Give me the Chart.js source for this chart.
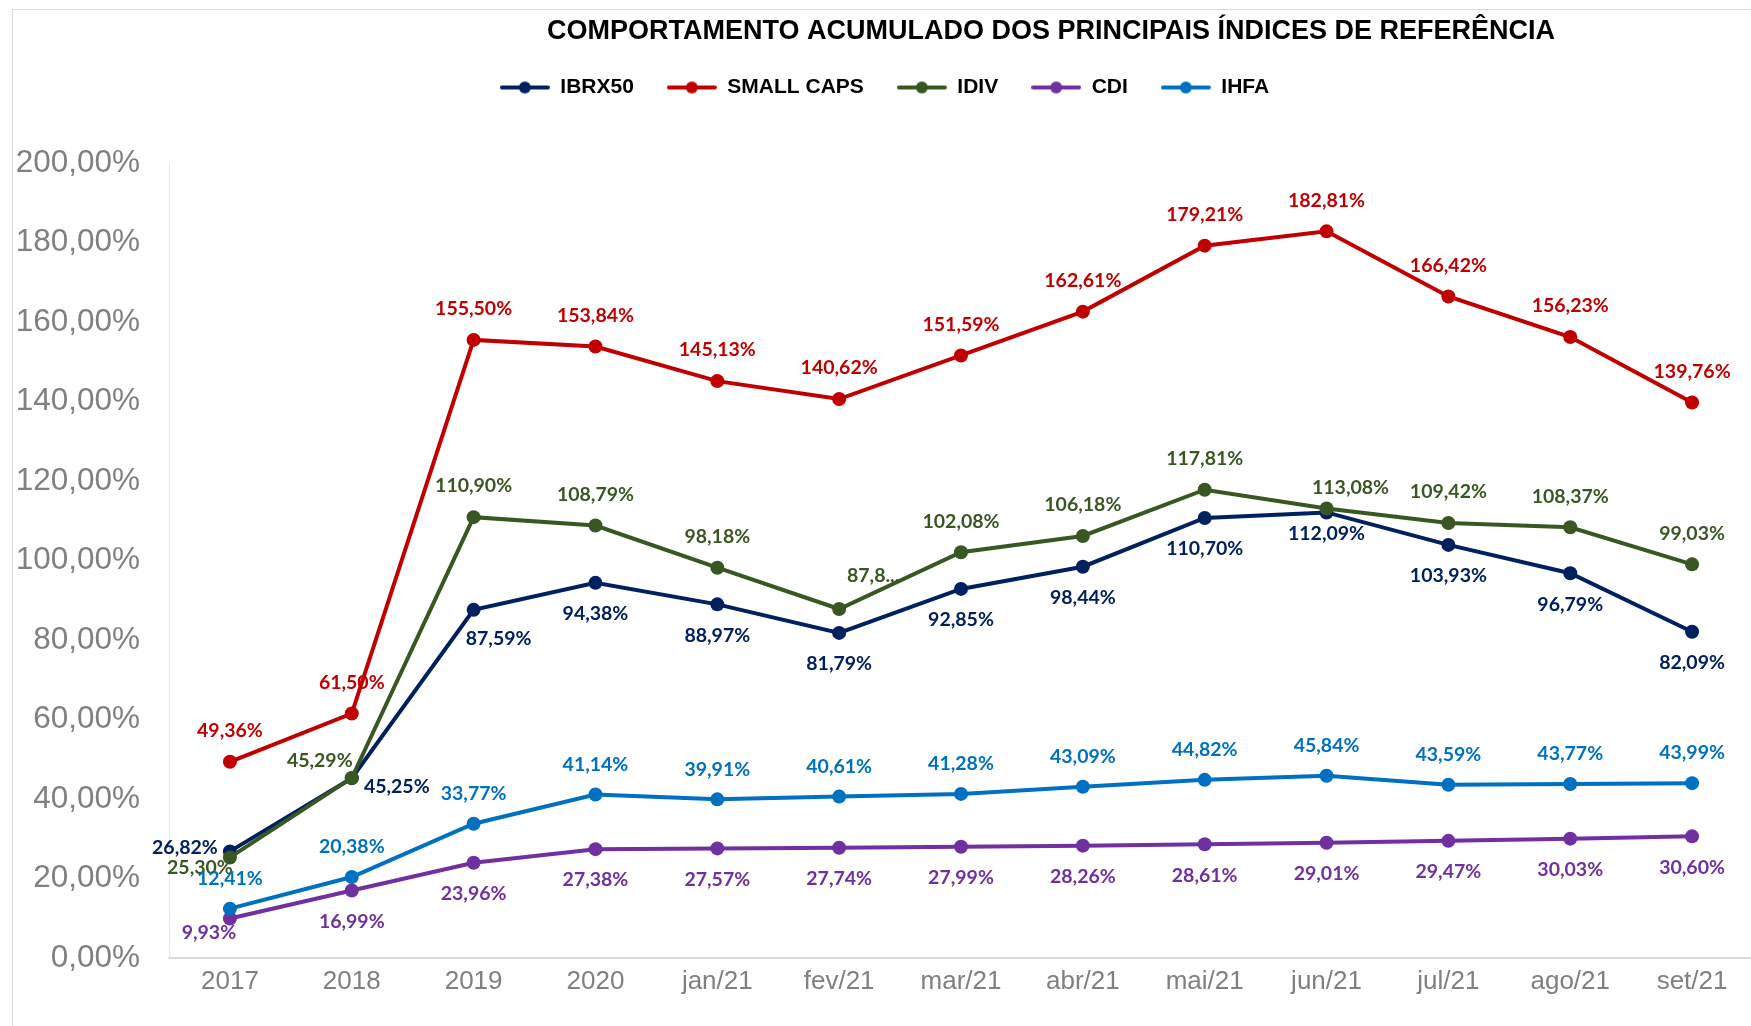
<!DOCTYPE html>
<html lang="pt-BR">
<head>
<meta charset="utf-8">
<title>Comportamento acumulado dos principais índices</title>
<script src="https://cdn.jsdelivr.net/npm/chart.js@4.4.1/dist/chart.umd.min.js"></script>
<style>
    html, body { margin: 0; padding: 0; background: #fff; overflow: hidden; }
    #wrap { position: relative; width: 1760px; height: 1026px; }
    #frame { position: absolute; left: 12px; top: 9px; width: 1800px; height: 1100px;
             border-left: 1px solid #d9d9d9; border-top: 1px solid #d9d9d9; }
    canvas { position: absolute; left: 0; top: 0; }
</style>
</head>
<body>
<div id="wrap">
    <div id="frame"></div>
    <canvas id="indicesChart" width="1760" height="1026"></canvas>
</div>
<script>
// Comportamento acumulado dos principais índices de referência (2017 - set/21)

const chartTitle = 'COMPORTAMENTO ACUMULADO DOS PRINCIPAIS ÍNDICES DE REFERÊNCIA';

const categories = ['2017', '2018', '2019', '2020', 'jan/21', 'fev/21', 'mar/21',
    'abr/21', 'mai/21', 'jun/21', 'jul/21', 'ago/21', 'set/21'];

const ibrx50 = [26.82, 45.25, 87.59, 94.38, 88.97, 81.79, 92.85, 98.44, 110.70, 112.09, 103.93, 96.79, 82.09];
const smallCaps = [49.36, 61.50, 155.50, 153.84, 145.13, 140.62, 151.59, 162.61, 179.21, 182.81, 166.42, 156.23, 139.76];
const idiv = [25.30, 45.29, 110.90, 108.79, 98.18, 87.80, 102.08, 106.18, 117.81, 113.08, 109.42, 108.37, 99.03];
const cdi = [9.93, 16.99, 23.96, 27.38, 27.57, 27.74, 27.99, 28.26, 28.61, 29.01, 29.47, 30.03, 30.60];
const ihfa = [12.41, 20.38, 33.77, 41.14, 39.91, 40.61, 41.28, 43.09, 44.82, 45.84, 43.59, 43.77, 43.99];

const seriesNames = ['IBRX50', 'SMALL CAPS', 'IDIV', 'CDI', 'IHFA'];
const seriesData = [ibrx50, smallCaps, idiv, cdi, ihfa];
const seriesColors = ['#002060', '#C00000', '#385723', '#7030A0', '#0070C0'];

// the IDIV label at fev/21 is cut short in the original
const truncatedLabels = { 2: { 5: '87,8...' } };

// label centre relative to its point (px): default above/below, then the odd ones
const labelPlacement = [
    { dy: 31, fix: { 0: [-45, -4], 1: [45, 9], 2: [25, 29], 9: [0, 21] } },
    { dy: -31, fix: {} },
    { dy: -31, fix: { 0: [-30, 10], 1: [-32, -17], 5: [34, -33], 9: [24, -21] } },
    { dy: 31, fix: { 0: [-21, 14] } },
    { dy: -30, fix: {} }
];

const pct = v => Number(v).toFixed(2).replace('.', ',') + '%';
const arial = '"Liberation Sans", Arial, sans-serif';

// line-with-dot marker for the legend, like the Excel one
function legendIcon(color) {
    const c = document.createElement('canvas');
    c.width = 50;
    c.height = 14;
    const g = c.getContext('2d');
    g.strokeStyle = color;
    g.lineWidth = 4;
    g.lineCap = 'round';
    g.beginPath();
    g.moveTo(2, 7);
    g.lineTo(48, 7);
    g.stroke();
    g.fillStyle = color;
    g.beginPath();
    g.arc(25, 7, 6, 0, Math.PI * 2);
    g.fill();
    return c;
}
const legendIcons = seriesColors.map(legendIcon);

// extra room between legend and plot
const legendGap = {
    id: 'legendGap',
    beforeInit(chart) {
        const fit = chart.legend.fit;
        chart.legend.fit = function () {
            fit.call(this);
            this.height += 55;
        };
    }
};

const titleText = {
    id: 'titleText',
    afterDraw(chart) {
        const ctx = chart.ctx;
        ctx.save();
        ctx.font = 'bold 27px ' + arial;
        ctx.fillStyle = '#000';
        ctx.textAlign = 'center';
        ctx.textBaseline = 'middle';
        ctx.fillText(chartTitle, 1051, 32);
        ctx.restore();
    }
};

const pointLabels = {
    id: 'pointLabels',
    afterDatasetsDraw(chart) {
        const ctx = chart.ctx;
        ctx.save();
        ctx.font = 'bold 19.5px Lato, "Open Sans", sans-serif';
        ctx.textAlign = 'center';
        ctx.textBaseline = 'middle';
        chart.data.datasets.forEach((ds, i) => {
            const meta = chart.getDatasetMeta(i);
            const place = labelPlacement[i];
            ctx.fillStyle = ds.borderColor;
            meta.data.forEach((pt, j) => {
                const [dx, dy] = place.fix[j] || [0, place.dy];
                const text = (truncatedLabels[i] && truncatedLabels[i][j]) || pct(ds.data[j]);
                ctx.fillText(text, pt.x + dx, pt.y + dy);
            });
        });
        ctx.restore();
    }
};

new Chart(document.getElementById('indicesChart'), {
    type: 'line',
    data: {
        labels: categories,
        datasets: seriesData.map((d, i) => ({
            label: seriesNames[i],
            data: d,
            borderColor: seriesColors[i],
            backgroundColor: seriesColors[i],
            pointBackgroundColor: seriesColors[i],
            borderWidth: 4,
            pointRadius: 7,
            pointHoverRadius: 7,
            pointBorderWidth: 0,
            tension: 0,
            order: seriesNames.length - i   // later series drawn on top, as in Excel
        }))
    },
    options: {
        responsive: false,
        animation: false,
        layout: { padding: { top: 44, left: 12, right: 3, bottom: 0 } },
        plugins: {
            legend: {
                position: 'top',
                labels: {
                    usePointStyle: true,
                    pointStyleWidth: 50,
                    padding: 33,
                    color: '#000',
                    font: { family: arial, size: 21, weight: 'bold' },
                    generateLabels: chart => chart.data.datasets.map((ds, i) => ({
                        text: ds.label,
                        pointStyle: legendIcons[i],
                        fillStyle: ds.borderColor,
                        strokeStyle: ds.borderColor,
                        lineWidth: 0,
                        hidden: false,
                        datasetIndex: i
                    }))
                }
            },
            tooltip: { enabled: false }
        },
        scales: {
            x: {
                offset: true,
                grid: { display: false, drawTicks: false },
                border: { color: '#d9d9d9', width: 2 },
                ticks: { color: '#808080', padding: 8, maxRotation: 0, font: { family: arial, size: 26 } },
                afterFit: s => { s.height = 68; }
            },
            y: {
                min: 0,
                max: 200,
                grid: { display: false, drawTicks: false },
                border: { color: '#e6e6e6', width: 1 },
                ticks: {
                    stepSize: 20,
                    color: '#808080',
                    padding: 29,
                    font: { family: arial, size: 31.5 },
                    callback: v => pct(v)
                },
                afterFit: s => { s.width = 157; }
            }
        }
    },
    plugins: [legendGap, pointLabels, titleText]
});
</script>
</body>
</html>
